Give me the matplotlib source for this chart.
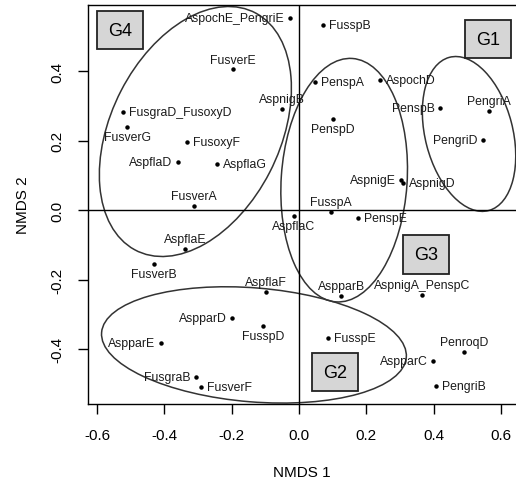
import matplotlib
matplotlib.use("Agg")
import matplotlib.pyplot as plt
from matplotlib.patches import Ellipse

plt.rcParams['font.family'] = ['Liberation Sans', 'DejaVu Sans']

# NMDS scores
names = ['AspochE_PengriE', 'FusspB', 'FusverE', 'AspnigB', 'FusgraD_FusoxyD',
         'FusverG', 'FusoxyF', 'AspflaD', 'AspflaG', 'FusverA', 'AspflaC',
         'AspflaE', 'FusverB', 'AspflaF', 'AspparD', 'FusspD', 'AspparE',
         'FusgraB', 'FusverF', 'PenspA', 'AspochD', 'PenspB', 'PengriA',
         'PenspD', 'PengriD', 'AspnigE', 'AspnigD', 'FusspA', 'PenspE',
         'AspparB', 'AspnigA_PenspC', 'FusspE', 'PenroqD', 'AspparC', 'PengriB']
nmds1 = [-0.027, 0.071, -0.196, -0.050, -0.523, -0.511, -0.333, -0.359, -0.244,
         -0.312, -0.015, -0.339, -0.431, -0.098, -0.199, -0.107, -0.410, -0.306,
         -0.291, 0.048, 0.241, 0.419, 0.564, 0.101, 0.546, 0.303, 0.309, 0.095,
         0.175, 0.125, 0.365, 0.086, 0.490, 0.398, 0.407]
nmds2 = [0.553, 0.532, 0.405, 0.291, 0.282, 0.239, 0.196, 0.138, 0.132, 0.012,
         -0.017, -0.112, -0.155, -0.236, -0.311, -0.334, -0.383, -0.481, -0.509,
         0.368, 0.374, 0.294, 0.285, 0.262, 0.201, 0.086, 0.078, -0.006, -0.023,
         -0.247, -0.245, -0.368, -0.409, -0.435, -0.506]
# which side of the point each label sits on
label_side = ['left', 'right', 'above', 'above', 'right', 'below', 'right', 'left',
              'right', 'above', 'below', 'above', 'below', 'above', 'left', 'below',
              'left', 'left', 'right', 'right', 'right', 'left', 'above', 'below',
              'left', 'left', 'right', 'above', 'right', 'above', 'above', 'right',
              'above', 'left', 'right']

# group ellipses: centre x, centre y, width, height, angle
groups = ['G1', 'G2', 'G3', 'G4']
ell_cx = [0.505, -0.134, 0.134, -0.308]
ell_cy = [0.219, -0.388, 0.086, 0.226]
ell_w = [0.456, 0.908, 0.702, 0.77]
ell_h = [0.26, 0.328, 0.374, 0.50]
ell_ang = [-75, -4.5, 86, 62]
grp_x = [0.561, 0.107, 0.377, -0.532]
grp_y = [0.492, -0.466, -0.127, 0.518]

fig = plt.figure(figsize=(5.16, 4.85), dpi=100)
ax = fig.add_axes([88 / 516, 80 / 485, 1 - 88 / 516, 399 / 485])

ax.axhline(0, color='black', lw=1)
ax.axvline(0, color='black', lw=1)
ax.plot(nmds1, nmds2, 'o', color='black', ms=2.2, ls='none')

offsets = {'left': ((-4, 0), 'right'), 'right': ((4, 0), 'left'),
           'above': ((0, 7), 'center'), 'below': ((0, -7), 'center')}
for n, x, y, s in zip(names, nmds1, nmds2, label_side):
    off, ha = offsets[s]
    ax.annotate(n, (x, y), xytext=off, textcoords='offset points',
                ha=ha, va='center', fontsize=8.8, color='#1a1a1a')

for cx, cy, w, h, a in zip(ell_cx, ell_cy, ell_w, ell_h, ell_ang):
    ax.add_patch(Ellipse((cx, cy), w, h, angle=a, fill=False,
                         edgecolor='#333333', lw=1.1))

for g, x, y in zip(groups, grp_x, grp_y):
    ax.text(x, y, g, ha='center', va='center', fontsize=13,
            bbox=dict(boxstyle='square,pad=0.6', facecolor='#d6d6d6',
                      edgecolor='#222222', lw=1.3))

ax.set_xlim(-0.627, 0.6445)
ax.set_ylim(-0.558, 0.590)
ax.set_xticks([-0.6, -0.4, -0.2, 0.0, 0.2, 0.4, 0.6])
ax.set_yticks([-0.4, -0.2, 0.0, 0.2, 0.4])
ax.set_xticklabels(['-0.6', '-0.4', '-0.2', '0.0', '0.2', '0.4', '0.6'])
ax.set_yticklabels(['-0.4', '-0.2', '0.0', '0.2', '0.4'], rotation=90, va='center')
ax.tick_params(length=7, width=1, labelsize=11, pad=10)
ax.spines['right'].set_visible(False)
for s in ['left', 'top', 'bottom']:
    ax.spines[s].set_linewidth(1)

ax.set_xlabel('NMDS 1', fontsize=11, labelpad=17)
ax.set_ylabel('NMDS 2', fontsize=11, labelpad=15)

fig.savefig('out.png', dpi=100)
